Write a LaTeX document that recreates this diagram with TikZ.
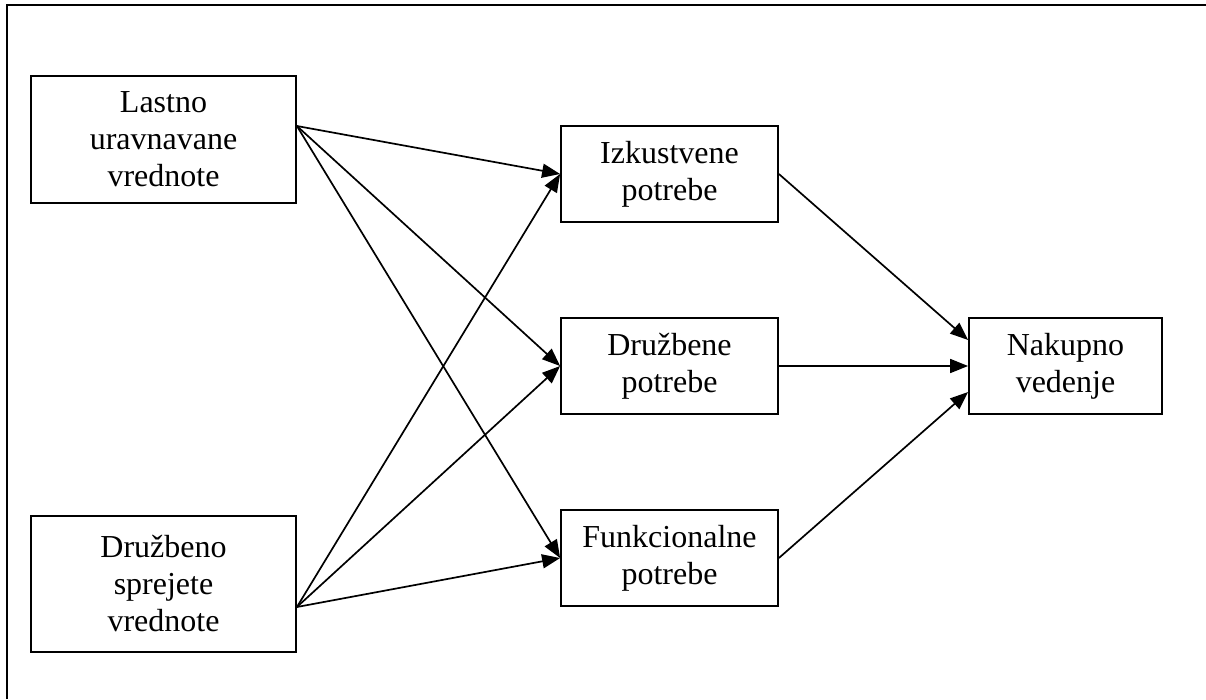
\documentclass[tikz,border=0pt]{standalone}
\usepackage{fontspec}
\setmainfont{Liberation Serif}
\usetikzlibrary{arrows.meta}
\begin{document}
\begin{tikzpicture}[x=1pt,y=-1pt,
  box/.style={draw,line width=1.8pt,rectangle,inner sep=0pt,align=center,
    font=\fontsize{32}{37}\selectfont},
  arr/.style={line width=1.7pt,-{Triangle[length=18pt,width=14pt]}}]
\useasboundingbox (0,0) rectangle (1206,699);
\draw[line width=2pt] (7,699) -- (7,5) -- (1206,5);
\node[box,minimum width=265pt,minimum height=127pt] (L) at (163.5,139.5) {Lastno\\uravnavane\\vrednote};
\node[box,minimum width=265pt,minimum height=136pt] (S) at (163.5,584) {Družbeno\\sprejete\\vrednote};
\node[box,minimum width=217pt,minimum height=96pt] (I) at (669.5,174) {Izkustvene\\potrebe};
\node[box,minimum width=217pt,minimum height=96pt] (D) at (669.5,366) {Družbene\\potrebe};
\node[box,minimum width=217pt,minimum height=96pt] (F) at (669.5,558) {Funkcionalne\\potrebe};
\node[box,minimum width=193pt,minimum height=96pt] (N) at (1065.5,366) {Nakupno\\vedenje};
\draw[arr] ([yshift=13.5pt]L.east) -- (I.west);
\draw[arr] ([yshift=13.5pt]L.east) -- (D.west);
\draw[arr] ([yshift=13.5pt]L.east) -- (F.west);
\draw[arr] ([yshift=-23pt]S.east) -- (I.west);
\draw[arr] ([yshift=-23pt]S.east) -- (D.west);
\draw[arr] ([yshift=-23pt]S.east) -- (F.west);
\draw[arr] (I.east) -- ([yshift=26pt]N.west);
\draw[arr] (D.east) -- (N.west);
\draw[arr] (F.east) -- ([yshift=-26pt]N.west);
\end{tikzpicture}
\end{document}
